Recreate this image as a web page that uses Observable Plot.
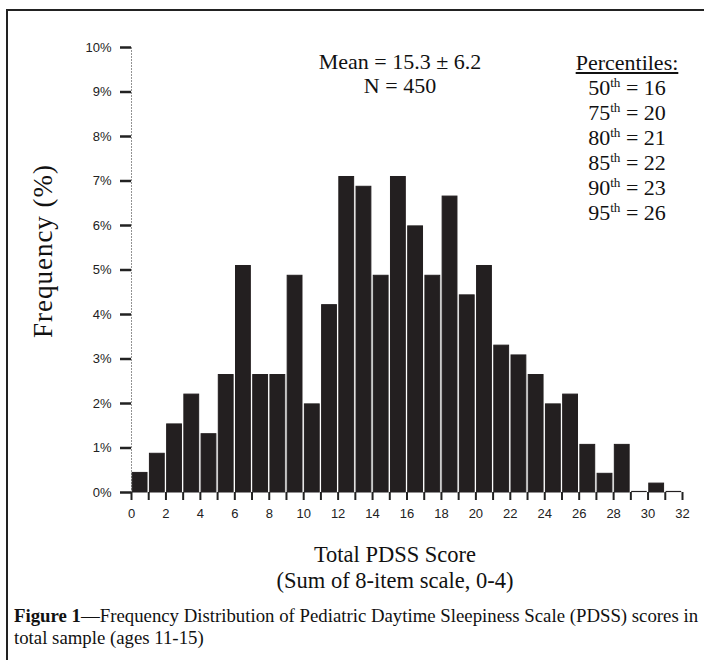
<!DOCTYPE html>
<html><head><meta charset="utf-8">
<script src="https://cdn.jsdelivr.net/npm/d3@7"></script>
<script src="https://cdn.jsdelivr.net/npm/@observablehq/plot@0.6"></script>
<style>
body{margin:0;background:#fff;}
#wrap{position:relative;width:704px;height:660px;overflow:hidden;background:#fff;}
#frame{position:absolute;left:6px;top:9px;width:720px;height:700px;border-left:2px solid #222;border-top:2px solid #222;}
#chart{position:absolute;left:0;top:0;}
.serif{font-family:"Liberation Serif","Times New Roman",serif;color:#111;position:absolute;white-space:nowrap;}
.sup{font-size:0.6em;position:relative;top:-0.62em;line-height:0;}
#stats{left:300px;width:200px;top:50px;font-size:22px;line-height:24px;text-align:center;}
#pct{left:567px;width:120px;top:50px;font-size:22px;line-height:25px;text-align:center;}
#ytitle{left:43px;top:251px;font-size:27px;letter-spacing:1px;transform:translate(-50%,-50%) rotate(-90deg);}
#xtitle{left:245px;width:300px;top:542px;font-size:22.5px;line-height:26px;text-align:center;}
#caption{left:14px;top:605px;font-size:18.8px;line-height:21.5px;}
</style>
</head><body>
<div id="wrap">
  <div id="frame"></div>
  <div id="chart"></div>
  <div id="stats" class="serif">Mean = 15.3 ± 6.2<br>N = 450</div>
  <div id="pct" class="serif"></div>
  <div id="ytitle" class="serif">Frequency (%)</div>
  <div id="xtitle" class="serif">Total PDSS Score<br>(Sum of 8-item scale, 0-4)</div>
  <div id="caption" class="serif"><b>Figure 1</b>—Frequency Distribution of Pediatric Daytime Sleepiness Scale (PDSS) scores in<br>total sample (ages 11-15)</div>
</div>
<script>
// Data
const scores = [0,1,2,3,4,5,6,7,8,9,10,11,12,13,14,15,16,17,18,19,20,21,22,23,24,25,26,27,28,29,30,31];
const freqPct = [0.44,0.87,1.53,2.2,1.31,2.64,5.09,2.64,2.64,4.87,1.98,4.21,7.09,6.87,4.87,7.09,5.98,4.87,6.65,4.43,5.09,3.3,3.08,2.64,1.98,2.2,1.07,0.42,1.07,0,0.2,0];
const xTicks = [0,1,2,3,4,5,6,7,8,9,10,11,12,13,14,15,16,17,18,19,20,21,22,23,24,25,26,27,28,29,30,31,32];
const yTicks = [0,1,2,3,4,5,6,7,8,9,10];
const percentileRanks = ["50","75","80","85","90","95"];
const percentileScores = [16,20,21,22,23,26];

const data = scores.map((s,i)=>({score:s, pct:freqPct[i]}));
const emptyBins = data.filter(d=>d.pct===0);

const chart = Plot.plot({
  width:704, height:540,
  marginTop:47, marginBottom:48, marginLeft:131, marginRight:22,
  style:{fontFamily:'"Liberation Sans", Arial, sans-serif', fontSize:"13px", color:"#222", background:"transparent", overflow:"visible"},
  x:{domain:[0,32]},
  y:{domain:[0,10]},
  marks:[
    Plot.ruleX([0], {stroke:"#777", strokeWidth:0.8, strokeDasharray:"2,1"}),
    Plot.rectY(data, {x1:"score", x2:d=>d.score+1, y:"pct", fill:"#231f20", stroke:"#231f20", strokeWidth:1, insetLeft:1.2, insetRight:1.2}),
    Plot.ruleY(emptyBins, {x1:"score", x2:d=>d.score+1, y:"pct", stroke:"#231f20", strokeWidth:1.2, insetLeft:0.8, insetRight:0.8, dy:-1}),
    Plot.axisY(yTicks, {tickSize:11, tickPadding:9, strokeWidth:2.5, stroke:"#222", fontSize:13, fill:"#222", tickFormat:d=>d+"%", label:null}),
    Plot.axisX(xTicks, {tickSize:8, tickPadding:8, strokeWidth:2, stroke:"#222", fontSize:13, fill:"#222", tickFormat:d=>d%2===0?String(d):"", label:null})
  ]
});
document.getElementById("chart").appendChild(chart);

const pct = document.getElementById("pct");
let html = '<span style="text-decoration:underline">Percentiles:</span>';
percentileRanks.forEach((r,i)=>{
  html += `<br>${r}<span class="sup">th</span> = ${percentileScores[i]}`;
});
pct.innerHTML = html;
</script>
</body></html>
